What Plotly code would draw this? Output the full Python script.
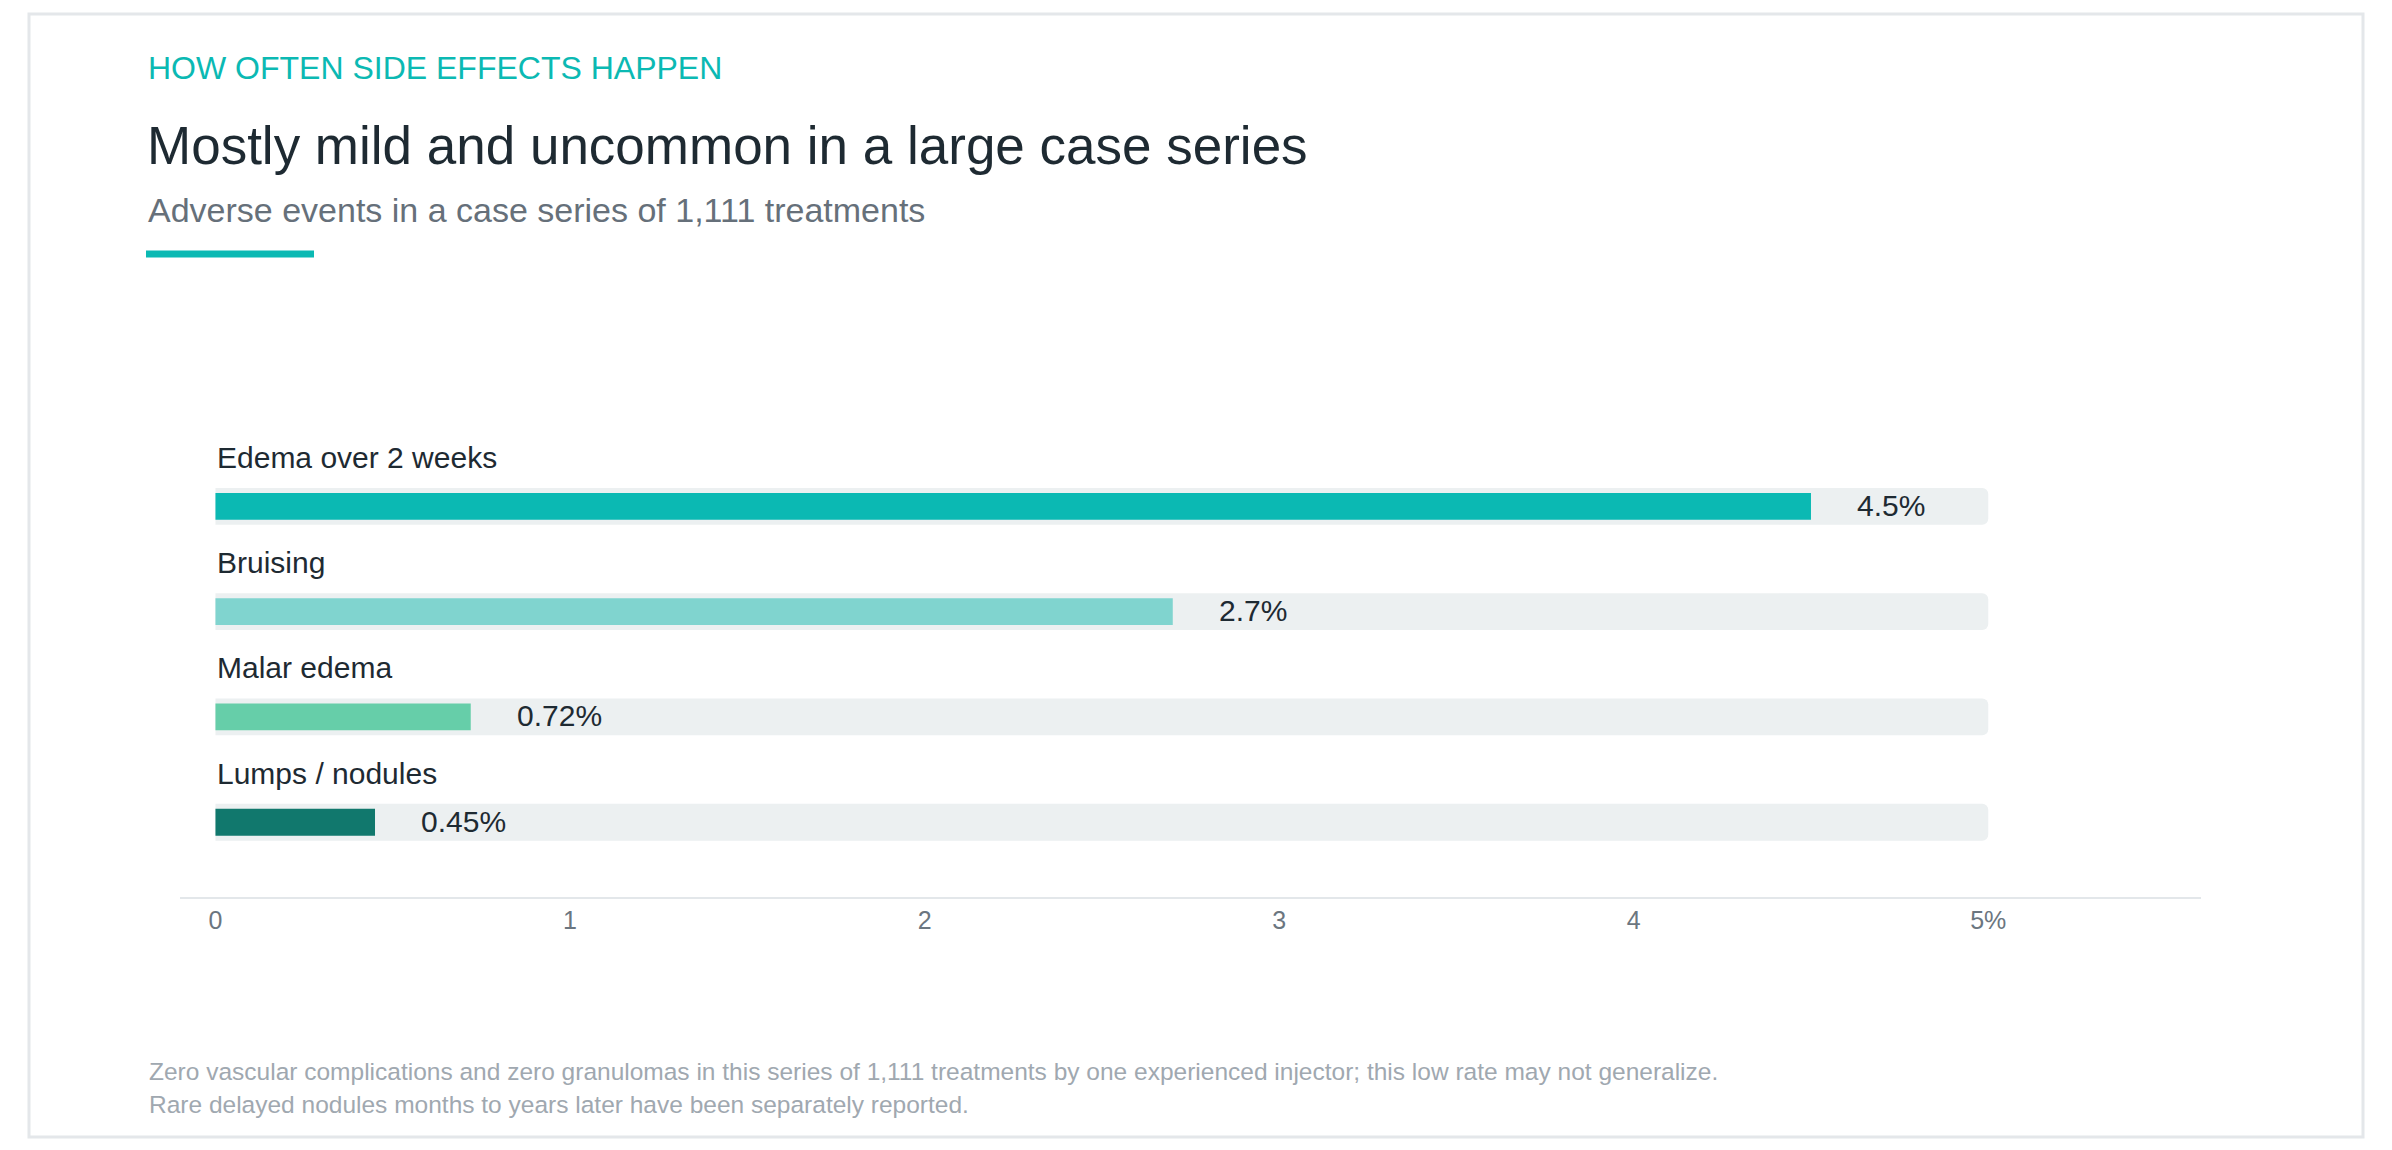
import plotly.graph_objects as go

# data
categories = ['Edema over 2 weeks', 'Bruising', 'Malar edema', 'Lumps / nodules']
rates = [4.5, 2.7, 0.72, 0.45]
bar_colors = ['#0bb9b3', '#80d4cf', '#66cea9', '#11786d']
scale_max = 5
tick_vals = [0, 1, 2, 3, 4, 5]
tick_text = ['0', '1', '2', '3', '4', '5%']

kicker = 'HOW OFTEN SIDE EFFECTS HAPPEN'
title = 'Mostly mild and uncommon in a large case series'
subtitle = 'Adverse events in a case series of 1,111 treatments'
notes = [
    'Zero vascular complications and zero granulomas in this series of 1,111 treatments '
    'by one experienced injector; this low rate may not generalize.',
    'Rare delayed nodules months to years later have been separately reported.',
]

# the page body has an 8px margin, so the figure is a bit smaller than the window
OFF = 8
W, H = 2392 - 2 * OFF, 1150 - 2 * OFF
L, R, T, B = 180 - OFF, 191 - OFF, 401 - OFF, 253 - OFF
FONT = 'Liberation Sans, Arial, Helvetica, sans-serif'
DARK = '#1e2a32'
TEAL = '#0bb9b3'


# window pixel -> paper coords
def px_x(x):
    return (x - OFF - L) / (W - L - R)


def px_y(y):
    return (H - B - (y - OFF)) / (H - T - B)


fig = go.Figure()

# grey tracks behind the bars
fig.add_trace(go.Bar(
    x=[scale_max] * len(categories), y=categories, orientation='h',
    width=0.35, marker=dict(color='#ecf0f1', cornerradius=6, line_width=0),
    hoverinfo='skip', showlegend=False,
))
fig.add_trace(go.Bar(
    x=rates, y=categories, orientation='h',
    width=0.255, marker=dict(color=bar_colors, cornerradius=6, line_width=0),
    showlegend=False,
))

annotations = []
for cat, val in zip(categories, rates):
    annotations.append(dict(
        x=0, y=cat, xref='x', yref='y', text=cat, showarrow=False,
        xanchor='left', yanchor='middle', yshift=49,
        font=dict(size=30, color=DARK),
    ))
    annotations.append(dict(
        x=val, y=cat, xref='x', yref='y', text=f'{val}%', showarrow=False,
        xanchor='left', yanchor='middle', xshift=44, yshift=1,
        font=dict(size=30, color=DARK),
    ))

# header and footer texts
annotations.append(dict(x=px_x(146), y=px_y(68), xref='paper', yref='paper', text=kicker,
                        showarrow=False, xanchor='left', yanchor='middle',
                        font=dict(size=32, color=TEAL)))
annotations.append(dict(x=px_x(145), y=px_y(145), xref='paper', yref='paper', text=title,
                        showarrow=False, xanchor='left', yanchor='middle',
                        font=dict(size=53, color=DARK)))
annotations.append(dict(x=px_x(146), y=px_y(210), xref='paper', yref='paper', text=subtitle,
                        showarrow=False, xanchor='left', yanchor='middle',
                        font=dict(size=34, color='#66707a')))
for i, line in enumerate(notes):
    annotations.append(dict(x=px_x(147), y=px_y(1071 + 33 * i), xref='paper', yref='paper',
                            text=line, showarrow=False, xanchor='left', yanchor='middle',
                            font=dict(size=24.5, color='#a0a8b0')))

shapes = [
    # card border
    dict(type='rect', xref='paper', yref='paper',
         x0=px_x(29), x1=px_x(2363), y0=px_y(1137), y1=px_y(14),
         line=dict(color='#e4e7ea', width=3), layer='below'),
    # teal accent under the subtitle
    dict(type='line', xref='paper', yref='paper',
         x0=px_x(146), x1=px_x(314), y0=px_y(254), y1=px_y(254),
         line=dict(color=TEAL, width=7)),
]

fig.update_layout(
    width=W, height=H,
    margin=dict(l=L, r=R, t=T, b=B),
    paper_bgcolor='white', plot_bgcolor='white',
    barmode='overlay',
    font=dict(family=FONT, color=DARK),
    annotations=annotations,
    shapes=shapes,
    xaxis=dict(range=[-0.1, 5.6], tickvals=tick_vals, ticktext=tick_text,
               showgrid=False, zeroline=False, showline=True,
               linecolor='#e3e7ea', linewidth=2, ticks='',
               ticklabelstandoff=0,
               tickfont=dict(size=25, color='#6b7680')),
    yaxis=dict(range=[3.71, -1.0], showticklabels=False, showgrid=False,
               zeroline=False, showline=False, ticks=''),
)

fig.write_html('out.html')
